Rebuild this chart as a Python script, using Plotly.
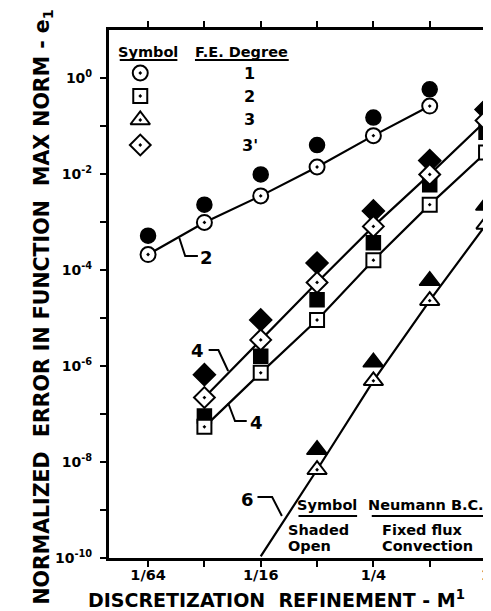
import numpy as np
import plotly.graph_objects as go

# ---------------- data ----------------
x_tickvals = [1/64, 1/16, 1/4, 1]
x_ticktext = ["1/64", "1/16", "1/4", "1"]
x_minorvals = [1/32, 1/8, 1/2]
y_major_exp = [-10, -8, -6, -4, -2, 0]
y_minor_exp = [-9, -7, -5, -3, -1]
y_ticktext = ["10<sup>%d</sup>" % k for k in y_major_exp]

deg1_M = [1/64, 1/32, 1/16, 1/8, 1/4, 1/2]
deg1_open = [2.1e-4, 9.8e-4, 3.5e-3, 1.4e-2, 6.3e-2, 2.6e-1]
deg1_shaded = [5.2e-4, 2.3e-3, 9.8e-3, 4.0e-2, 1.5e-1, 5.8e-1]

deg2_M = [1/32, 1/16, 1/8, 1/4, 1/2, 1]
deg2_open = [5.4e-8, 7.2e-7, 9.1e-6, 1.6e-4, 2.3e-3, 2.8e-2]
deg2_shaded = [9.1e-8, 1.6e-6, 2.4e-5, 3.7e-4, 6.0e-3, 7.4e-2]

deg3p_M = [1/32, 1/16, 1/8, 1/4, 1/2, 1]
deg3p_open = [2.2e-7, 3.5e-6, 5.5e-5, 8.1e-4, 9.8e-3, 1.3e-1]
deg3p_shaded = [6.6e-7, 9.1e-6, 1.4e-4, 1.7e-3, 1.9e-2, 2.2e-1]

deg3_M = [1/8, 1/4, 1/2, 1]
deg3_open = [6.9e-9, 4.9e-7, 2.3e-5, 8.9e-4]
deg3_shaded = [1.8e-8, 1.2e-6, 6.0e-5, 2.2e-3]
deg3_slope = 6  # annotated slope, used to extend the line one octave down

legend_symbols = ["circle-dot", "square-dot", "triangle-up-dot", "diamond-dot"]
legend_degrees = ["1", "2", "3", "3'"]

# ---------------- geometry ----------------
W, H = 491, 611
PL, PR, PT, PB = 101, 489, 22, 550          # plot area in pixels
X1_PX, X64_PX = 487, 141                     # pixel positions of M=1 and M=1/64
per_dec = (X1_PX - X64_PX) / np.log10(64)
x_range = [-(X1_PX - PL) / per_dec, (PR - X1_PX) / per_dec]
y_range = [-10, 1]

FONT = "DejaVu Sans"
BLACK = "black"


def paper(px, py):
    return (px - PL) / (PR - PL), (PB - py) / (PB - PT)


fig = go.Figure()

# ---- lines through the open symbols ----
tri_line_M = [deg3_M[0] / 2] + deg3_M
tri_line_v = [deg3_open[0] * 0.5 ** deg3_slope] + deg3_open
for xs, ys in [(deg1_M, deg1_open), (deg2_M, deg2_open),
               (deg3p_M, deg3p_open), (tri_line_M, tri_line_v)]:
    fig.add_trace(go.Scatter(x=xs, y=ys, mode="lines",
                             line=dict(color=BLACK, width=2.2),
                             showlegend=False, hoverinfo="skip"))

# ---- shaded (fixed flux) symbols ----
shaded = [(deg1_M, deg1_shaded, "circle", 15),
          (deg2_M, deg2_shaded, "square", 14),
          (deg3p_M, deg3p_shaded, "diamond", 17),
          (deg3_M, deg3_shaded, "triangle-up", 18)]
for xs, ys, sym, sz in shaded:
    fig.add_trace(go.Scatter(x=xs, y=ys, mode="markers",
                             marker=dict(symbol=sym, size=sz, color=BLACK,
                                         line=dict(color=BLACK, width=1.5)),
                             showlegend=False, cliponaxis=False))

# ---- open (convection) symbols ----
opened = [(deg1_M, deg1_open, "circle-dot", 15),
          (deg2_M, deg2_open, "square-dot", 14),
          (deg3p_M, deg3p_open, "diamond-dot", 16),
          (deg3_M, deg3_open, "triangle-up-dot", 17)]
for xs, ys, sym, sz in opened:
    fig.add_trace(go.Scatter(x=xs, y=ys, mode="markers",
                             marker=dict(symbol=sym, size=sz, color="white",
                                         line=dict(color=BLACK, width=2)),
                             showlegend=False, cliponaxis=False))

# ---- in-plot legend (top-left) on a pixel overlay axis ----
leg_sizes = [15, 14, 17, 16]
leg_y = [65, 88, 112, 137]
for sym, sz, py in zip(legend_symbols, leg_sizes, leg_y):
    fig.add_trace(go.Scatter(x=[133], y=[py], xaxis="x2", yaxis="y2", mode="markers",
                             marker=dict(symbol=sym, size=sz, color="white",
                                         line=dict(color=BLACK, width=2)),
                             showlegend=False, hoverinfo="skip"))

# ---- slope leaders ----
leaders = [
    [(173, 230), (179, 248), (192, 248)],
    [(203, 342), (213, 342), (223, 363)],
    [(223, 395), (230, 413), (242, 413)],
    [(253, 489), (268, 489), (278, 508)],
]
for pts in leaders:
    fig.add_trace(go.Scatter(x=[p[0] for p in pts], y=[p[1] for p in pts],
                             xaxis="x2", yaxis="y2", mode="lines",
                             line=dict(color=BLACK, width=2),
                             showlegend=False, hoverinfo="skip"))

annotations = []


def txt(text, px, py, size, xanchor="center", angle=0):
    x, y = paper(px, py)
    annotations.append(dict(text=text, x=x, y=y, xref="paper", yref="paper",
                            xanchor=xanchor, yanchor="middle", showarrow=False,
                            textangle=angle,
                            font=dict(family=FONT, size=size, color=BLACK, weight="bold")))


# slope labels
txt("2", 201, 250, 18)
txt("4", 192, 342, 18)
txt("4", 252, 414, 18)
txt("6", 243, 491, 18)

# top-left legend text
txt("Symbol", 141, 44, 14.5)
txt("F.E. Degree", 237, 44, 14.5)
for lab, py in zip(legend_degrees, leg_y):
    txt(lab, 245, py, 16)

# bottom-right legend text
txt("Symbol", 324, 497, 14.5)
txt("Neumann B.C.", 426, 497, 14.5)
txt("Shaded", 282, 522, 14.5, xanchor="left")
txt("Open", 282, 538, 14.5, xanchor="left")
txt("Fixed flux", 378, 522, 14.5, xanchor="left")
txt("Convection", 378, 538, 14.5, xanchor="left")

# axis titles
txt("DISCRETIZATION\u00a0\u00a0REFINEMENT - M<sup>1</sup>", 77, 591, 19, xanchor="left")
txt("NORMALIZED\u00a0\u00a0ERROR IN FUNCTION\u00a0\u00a0MAX NORM - e<sub>1</sub>", 33, 299, 20.5, angle=-90)

# underlines
shapes = []
for x0, x1, py in [(112, 171, 52), (189, 285, 52), (295, 355, 508), (370, 484, 508)]:
    a = paper(x0, py)
    b = paper(x1, py)
    shapes.append(dict(type="line", xref="paper", yref="paper", x0=a[0], y0=a[1], x1=b[0], y1=b[1],
                       line=dict(color=BLACK, width=2)))

axis_common = dict(showline=True, linecolor=BLACK, linewidth=3, mirror="ticks",
                   ticks="outside", ticklen=6, tickwidth=2, tickcolor=BLACK,
                   showgrid=False, zeroline=False)

fig.update_layout(
    width=W, height=H,
    margin=dict(l=PL, r=W - PR, t=PT, b=H - PB, pad=0),
    paper_bgcolor="white", plot_bgcolor="white",
    showlegend=False,
    xaxis=dict(type="log", range=x_range, tickvals=x_tickvals, ticktext=x_ticktext,
               ticklabelstandoff=-4,
               minor=dict(tickmode="array", tickvals=x_minorvals, ticks="outside",
                          ticklen=6, tickwidth=2, tickcolor=BLACK, showgrid=False),
               tickfont=dict(family=FONT, size=14.5, color=BLACK, weight="bold"),
               **axis_common),
    yaxis=dict(type="log", range=y_range, tickvals=[10.0 ** k for k in y_major_exp],
               ticktext=y_ticktext, ticklabelstandoff=5,
               minor=dict(tickmode="array", tickvals=[10.0 ** k for k in y_minor_exp],
                          ticks="outside", ticklen=6, tickwidth=2, tickcolor=BLACK,
                          showgrid=False),
               tickfont=dict(family=FONT, size=14, color=BLACK, weight="bold"),
               **axis_common),
    xaxis2=dict(overlaying="x", range=[PL, PR], visible=False, anchor="y2"),
    yaxis2=dict(overlaying="y", range=[PB, PT], visible=False, anchor="x2"),
    annotations=annotations,
    shapes=shapes,
)

fig.write_html("out.html")
